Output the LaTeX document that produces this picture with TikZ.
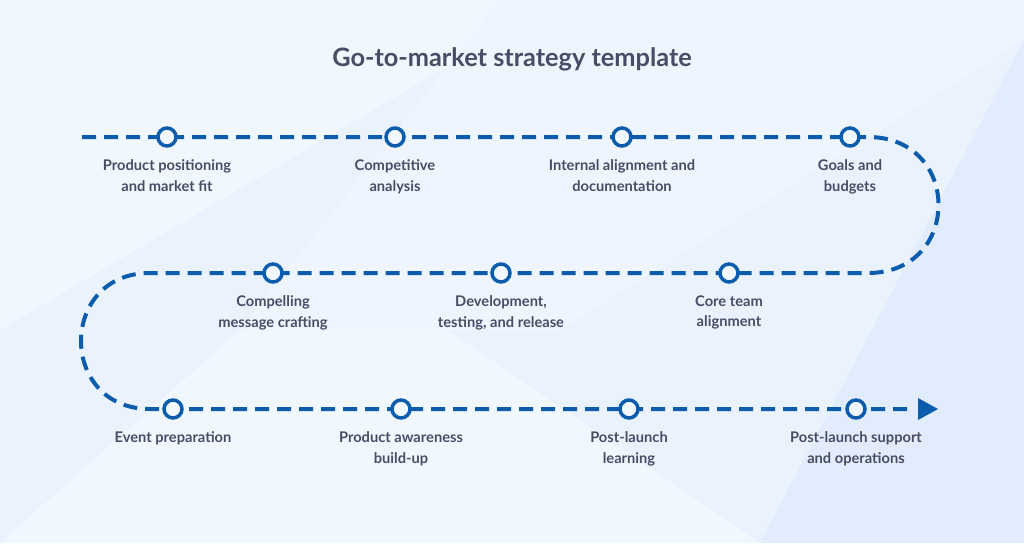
\documentclass[tikz,border=0pt]{standalone}
\usepackage{fontspec}
\setmainfont{Lato}
\usetikzlibrary{arrows.meta}
\definecolor{bgblue}{HTML}{EAF3FD}
\definecolor{bglight}{HTML}{F1F7FE}
\definecolor{bgdark}{HTML}{E1EDFC}
\definecolor{routeblue}{HTML}{0B5CAD}
\definecolor{txtgray}{HTML}{4A4C66}
\tikzset{every picture/.style={line width=0.75pt}}
\tikzset{
  route/.style={draw=routeblue, line width=3pt, dash pattern=on 10.5pt off 6pt},
  milestone/.style={circle, draw=routeblue, line width=2.6pt, fill=bglight, minimum size=13.5pt, inner sep=0pt},
  steplabel/.style={anchor=north, align=center, text=txtgray, font=\fontsize{11}{15.5}\selectfont\bfseries, inner sep=0.75pt}
}
\begin{document}
\begin{tikzpicture}[x=0.75pt,y=0.75pt,yscale=-1,xscale=1]
    % background
    \fill[bgblue] (0,0) rectangle (1024,543);
    \fill[bglight] (0,0) -- (560,0) -- (0,330) -- cycle;
    \fill[bglight] (0,543) -- (330,250) -- (760,543) -- cycle;
    \fill[bgdark] (1024,40) -- (1024,543) -- (760,543) -- cycle;
    \fill[bglight!60!bgblue] (500,0) -- (1024,0) -- (1024,40) -- (560,330) -- (240,330) -- cycle;
    \useasboundingbox (0,0) rectangle (1024,543);
    % Title
    \node[text=txtgray, font=\fontsize{19}{23}\selectfont\bfseries] (title) at (512,59) {Go-to-market strategy template};
    % route points
    \coordinate (start) at (82,137);
    \coordinate (m4c) at (850,137);
    \coordinate (m5c) at (729,273);
    \coordinate (m8c) at (173,409);
    \coordinate (endpt) at (938,409);
    % Route
    \draw[route] (start) -- (m4c) -- (868,137) .. controls (962,137) and (962,273) .. (868,273)
        -- (m5c) -- (150,273)
        .. controls (58,273) and (58,409) .. (150,409) -- (m8c) -- (915,409);
    \fill[routeblue] (endpt) -- (918,398) -- (918,420) -- cycle;
    % Milestones
    \node[milestone] (m1) at (167,137) {};
    \node[milestone] (m2) at (395,137) {};
    \node[milestone] (m3) at (622,137) {};
    \node[milestone] (m4) at (m4c) {};
    \node[milestone] (m5) at (m5c) {};
    \node[milestone] (m6) at (501,273) {};
    \node[milestone] (m7) at (273,273) {};
    \node[milestone] (m8) at (m8c) {};
    \node[milestone] (m9) at (401,409) {};
    \node[milestone] (m10) at (629,409) {};
    \node[milestone] (m11) at (856,409) {};
    % Labels
    \node[steplabel] (l1) at (167,158) {Product positioning\\and market fit};
    \node[steplabel] (l2) at (395,158) {Competitive\\analysis};
    \node[steplabel] (l3) at (622,158) {Internal alignment and\\documentation};
    \node[steplabel] (l4) at (850,158) {Goals and\\budgets};
    \node[steplabel] (l5) at (729,294) {Core team\\alignment};
    \node[steplabel] (l6) at (501,294) {Development,\\testing, and release};
    \node[steplabel] (l7) at (273,294) {Compelling\\message crafting};
    \node[steplabel] (l8) at (173,430) {Event preparation};
    \node[steplabel] (l9) at (401,430) {Product awareness\\build-up};
    \node[steplabel] (l10) at (629,430) {Post-launch\\learning};
    \node[steplabel] (l11) at (856,430) {Post-launch support\\and operations};
\end{tikzpicture}
\end{document}
